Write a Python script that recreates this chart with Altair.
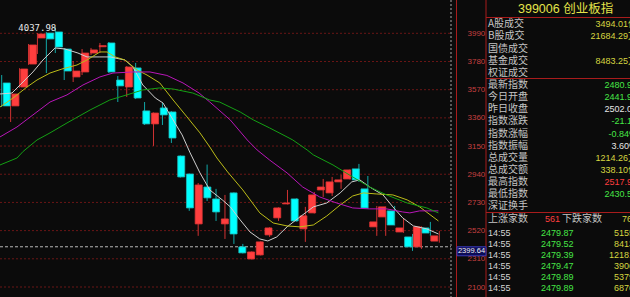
import altair as alt
import pandas as pd

# ---------------- candle data (399006 daily) ----------------
opens  = [3620, 3449, 3590, 3761, 3955, 3992, 4000, 3873, 3665, 3702,
          3843, 3890, 3918, 3642, 3590, 3732, 3412, 3315, 3434, 3404,
          3076, 2942, 2570, 2845, 2756, 2570, 2801, 2399, 2309, 2339,
          2488, 2615, 2719, 2756, 2533, 2652, 2823, 2801, 2883, 2905,
          2980, 2831, 2548, 2622, 2667, 2510, 2473, 2399, 2540, 2441.9]
highs  = [3679, 3545, 3730, 3910, 3992, 4000, 4037.98, 3878, 3784, 3873,
          3881, 3918, 3925, 3672, 3745, 3769, 3478, 3400, 3471, 3410,
          3080, 2945, 2875, 3012, 2831, 2786, 2805, 2421, 2365, 2440,
          2545, 2693, 2823, 2760, 2697, 2808, 2905, 2920, 2935, 2976,
          3017, 2927, 2704, 2700, 2704, 2607, 2495, 2552, 2585, 2517.9]
lows   = [3441, 3329, 3585, 3755, 3836, 3694, 3843, 3642, 3627, 3679,
          3828, 3843, 3695, 3478, 3516, 3500, 3307, 3151, 3307, 3173,
          2915, 2667, 2481, 2741, 2592, 2458, 2421, 2350, 2305, 2335,
          2473, 2592, 2715, 2588, 2436, 2648, 2771, 2778, 2831, 2900,
          2883, 2685, 2481, 2481, 2558, 2503, 2369, 2384, 2481, 2430.5]
closes = [3449, 3538, 3724, 3903, 3985, 3948, 3888, 3709, 3709, 3843,
          3866, 3898, 3702, 3598, 3739, 3508, 3315, 3396, 3382, 3210,
          2920, 2689, 2860, 2764, 2659, 2607, 2495, 2354, 2361, 2436,
          2540, 2689, 2726, 2592, 2630, 2786, 2845, 2883, 2898, 2972,
          2898, 2689, 2585, 2697, 2562, 2540, 2399, 2548, 2502, 2480.9]

# moving averages: (bar position, value)
ma5_pos = [-0.19, 1.15, 2.05, 3.5, 4.62, 5.97, 7.09, 8.54, 9.55, 11.0, 12.13, 13.8, 14.7,
           15.8, 17.2, 18.06, 19.2, 20.2, 21.1, 22.2, 23.3, 24.7, 25.6, 26.7, 27.8, 28.9,
           29.8, 30.8, 31.95, 33.4, 34.9, 36.4, 37.9, 39.2, 40.1, 41.2, 42.7, 43.8, 44.9,
           46.1, 47.6, 48.9]
ma5_val = [3538, 3545, 3605, 3702, 3791, 3881, 3873, 3843, 3814, 3814, 3814, 3791, 3739,
           3605, 3508, 3471, 3344, 3233, 3099, 2950, 2823, 2749, 2697, 2600, 2510, 2458,
           2443, 2473, 2548, 2622, 2697, 2726, 2801, 2883, 2898, 2845, 2786, 2697, 2615,
           2555, 2533, 2495]
ma10_pos = [-0.19, 1.27, 2.83, 3.95, 5.41, 6.75, 8.43, 9.55, 11.0, 11.8, 12.7, 13.8, 15.15,
            16.27, 17.7, 19.2, 20.75, 22.2, 23.3, 24.1, 25.3, 27.0, 28.9, 30.4, 31.95, 33.4,
            34.9, 36.4, 37.9, 39.3, 40.5, 42.0, 43.8, 45.4, 46.8, 48.3, 48.9]
ma10_val = [3441, 3508, 3590, 3642, 3694, 3724, 3754, 3791, 3851, 3851, 3814, 3791, 3717,
            3679, 3620, 3493, 3367, 3248, 3143, 3061, 2957, 2823, 2652, 2577, 2555, 2548,
            2562, 2629, 2711, 2778, 2801, 2793, 2786, 2749, 2697, 2622, 2592]
ma20_pos = [-0.19, 1.71, 3.5, 5.41, 7.31, 9.1, 11.0, 12.46, 14.7, 16.6, 18.5, 20.3, 22.1,
            23.3, 25.6, 27.5, 28.6, 30.0, 31.95, 33.7, 35.6, 37.5, 39.3, 41.2, 43.1, 44.9,
            45.7, 46.8, 48.9]
ma20_val = [3218, 3292, 3382, 3478, 3531, 3605, 3665, 3694, 3702, 3702, 3676, 3620, 3545,
            3478, 3344, 3195, 3121, 3046, 2950, 2845, 2771, 2726, 2689, 2682, 2682, 2659,
            2652, 2667, 2667]
ma60_pos = [-0.19, 1.71, 2.4, 3.95, 5.41, 7.31, 9.9, 12.1, 14.0, 15.8, 17.7, 19.2, 21.4,
            23.3, 24.4, 26.7, 28.2, 30.0, 31.95, 32.6, 34.2, 34.9, 37.1, 39.3, 41.2, 43.1,
            45.4, 47.6, 48.9]
ma60_val = [3009, 3061, 3110, 3195, 3248, 3322, 3419, 3493, 3531, 3568, 3583, 3575, 3545,
            3493, 3478, 3404, 3344, 3285, 3218, 3195, 3121, 3084, 3009, 2920, 2845, 2786,
            2726, 2689, 2652]

grid_levels = [3990, 3780, 3570, 3360, 3150, 2940, 2730, 2520, 2310, 2100]
cursor_price = 2399.64

title_text = "399006  创业板指"
info_labels = ["A股成交", "B股成交", "国债成交", "基金成交", "权证成交",
               "最新指数", "今日开盘", "昨日收盘", "指数涨跌", "指数涨幅", "指数振幅",
               "总成交量", "总成交额", "最高指数", "最低指数", "深证换手"]
info_values = ["3494.01亿", "21684.29万", "", "8483.25万", "",
               "2480.91", "2441.92", "2502.05", "-21.14", "-0.84%", "3.60%",
               "1214.26万", "338.10亿", "2517.93", "2430.57", ""]
info_kind = ["amt", "amt", "", "amt", "", "down", "down", "flat", "down", "down", "flat",
             "amt", "amt", "up", "down", ""]
adv_label, adv_count, dec_label, dec_count = "上涨家数", "561", "下跌家数", "768"
tick_times = ["14:55"] * 6
tick_prices = ["2479.87", "2479.52", "2479.39", "2479.47", "2479.89", "2479.89"]
tick_vols = ["5155", "8413", "12181", "3906", "5379", "6876"]

# ---------------- style ----------------
BG = "#0b0b0b"
RED, CYAN = "#ff3e3e", "#00ffff"
RED_WICK, CYAN_WICK = "#d03232", "#12a8a8"
GRID = "#6a1616"
FRAME = "#a81c1c"
GRAY = "#c4c4c4"
YEL, GRN, WHT = "#d6d640", "#46e646", "#e6e6e6"
NUMF = "Liberation Sans, Noto Sans CJK SC"
CJK = "Noto Sans CJK SC"
kind_color = {"amt": YEL, "down": GRN, "up": RED, "flat": WHT, "": WHT}

W, H = 630, 297
XS = alt.Scale(domain=[0, 49], range=[1.7, 439.3], zero=False, nice=False)
YS = alt.Scale(domain=[2100, 3990], range=[287, 33.3], zero=False, nice=False)

n = len(opens)
cdf = pd.DataFrame({"i": list(range(n)), "o": opens, "h": highs, "l": lows, "c": closes})
up = cdf["c"] >= cdf["o"]
cdf["body"] = [RED if u else CYAN for u in up]
cdf["edge"] = ["#e23636" if u else "#1cbcbc" for u in up]
cdf["wick"] = [RED_WICK if u else CYAN_WICK for u in up]

X = lambda f: alt.X(f, scale=XS, axis=None)
Y = lambda f: alt.Y(f, scale=YS, axis=None)

layers = []

# grid + price axis labels
gdf = pd.DataFrame({"p": grid_levels})
layers.append(
    alt.Chart(gdf).mark_rule(color=GRID, strokeDash=[2, 2], strokeWidth=1).encode(
        y=alt.Y("p:Q", scale=YS,
                axis=alt.Axis(orient="right", offset=-174, values=grid_levels, title=None,
                              format="d", grid=False, domain=False, ticks=False, labelPadding=11,
                              labelFont="Liberation Sans", labelFontSize=8,
                              labelColor="#c84040", labelOverlap=False)),
        x=alt.value(0), x2=alt.value(451))
)

# cursor dashed line
layers.append(
    alt.Chart(pd.DataFrame({"p": [cursor_price]})).mark_rule(
        color="#b8b8b8", strokeDash=[3, 2], strokeWidth=1).encode(
        y=Y("p:Q"), x=alt.value(0), x2=alt.value(451))
)

# wicks
layers.append(
    alt.Chart(cdf).mark_rule(strokeWidth=1).encode(
        x=X("i:Q"), y=Y("l:Q"), y2="h:Q", color=alt.Color("wick:N", scale=None))
)
# bodies
layers.append(
    alt.Chart(cdf).mark_bar(size=7, strokeWidth=0.8).encode(
        x=X("i:Q"), y=Y("o:Q"), y2="c:Q",
        color=alt.Color("body:N", scale=None), stroke=alt.Stroke("edge:N", scale=None))
)

# moving averages
ma_rows = []
for name, ps, vs in [("MA5", ma5_pos, ma5_val), ("MA10", ma10_pos, ma10_val),
                     ("MA20", ma20_pos, ma20_val), ("MA60", ma60_pos, ma60_val)]:
    for p, v in zip(ps, vs):
        ma_rows.append({"ma": name, "i": p, "v": v})
mdf = pd.DataFrame(ma_rows)
layers.append(
    alt.Chart(mdf).mark_line(strokeWidth=1).encode(
        x=X("i:Q"), y=Y("v:Q"),
        color=alt.Color("ma:N", scale=alt.Scale(domain=["MA5", "MA10", "MA20", "MA60"],
                                                range=["#cfcfcf", "#bcbc18", "#b816b8", "#14a014"]),
                        legend=None))
)

# highest price label
imax = highs.index(max(highs))
layers.append(
    alt.Chart(pd.DataFrame({"i": [imax], "h": [highs[imax]], "t": [f"{highs[imax]:.2f}"]}))
    .mark_text(align="right", baseline="middle", dx=1, dy=1, font="DejaVu Sans Mono",
               fontSize=9, color="#e8e8e8")
    .encode(x=X("i:Q"), y=Y("h:Q"), text="t:N")
)

# frame lines
layers.append(alt.Chart(pd.DataFrame({"a": [0]})).mark_rule(color="#a8a8a8", strokeDash=[2, 2])
              .encode(x=alt.value(451), y=alt.value(0), y2=alt.value(H)))
for xv in (456.5, 486):
    layers.append(alt.Chart(pd.DataFrame({"a": [0]})).mark_rule(color=FRAME, strokeWidth=1)
                  .encode(x=alt.value(xv), y=alt.value(0), y2=alt.value(H)))
for yv in (17.5, 78.5, 212.5):
    layers.append(alt.Chart(pd.DataFrame({"a": [0]})).mark_rule(color=FRAME, strokeWidth=1)
                  .encode(x=alt.value(486), x2=alt.value(W), y=alt.value(yv)))

# cursor price box
bdf = pd.DataFrame({"p": [cursor_price], "p2": [cursor_price - 67], "pm": [cursor_price - 33.5],
                    "t": [f"{cursor_price:.2f}"]})
layers.append(alt.Chart(bdf).mark_rect(fill="#0c0c58", stroke="#3a3ab4", strokeWidth=1)
              .encode(x=alt.value(457), x2=alt.value(486), y=Y("p:Q"), y2="p2:Q"))
layers.append(alt.Chart(bdf).mark_text(align="center", baseline="middle", font="Liberation Sans",
                                       fontSize=7.5, color="#f0f0f0")
              .encode(x=alt.value(471.5), y=Y("pm:Q"), text="t:N"))

# ---------------- right info panel ----------------
layers.append(alt.Chart(pd.DataFrame({"t": [title_text]})).mark_text(
    align="left", baseline="middle", font=NUMF, fontSize=12.5, color="#e4e44a")
    .encode(x=alt.value(518), y=alt.value(8.5), text="t:N"))

ROWS = alt.Scale(domain=[0, 16], range=[24.2, 218.6], zero=False, nice=False)
idf = pd.DataFrame({"row": list(range(len(info_labels))), "label": info_labels,
                    "value": info_values, "col": [kind_color[k] for k in info_kind]})
layers.append(alt.Chart(idf).mark_text(align="left", baseline="middle", font=CJK, fontSize=10,
                                       color=GRAY)
              .encode(x=alt.value(488), y=alt.Y("row:Q", scale=ROWS, axis=None), text="label:N"))
layers.append(alt.Chart(idf).mark_text(align="right", baseline="middle", font=NUMF, fontSize=9)
              .encode(x=alt.value(637), y=alt.Y("row:Q", scale=ROWS, axis=None), text="value:N",
                      color=alt.Color("col:N", scale=None)))

adv_df = pd.DataFrame({"row": [16] * 4, "t": [adv_label, adv_count, dec_label, dec_count],
                       "col": [GRAY, RED, GRAY, YEL]})
for k, xv in enumerate([488, 545, 562, 622]):
    layers.append(alt.Chart(adv_df.iloc[[k]]).mark_text(align="left", baseline="middle",
                                                        font=NUMF, fontSize=10 if k % 2 == 0 else 9)
                  .encode(x=alt.value(xv), y=alt.Y("row:Q", scale=ROWS, axis=None), text="t:N",
                          color=alt.Color("col:N", scale=None)))

TROWS = alt.Scale(domain=[0, 5], range=[232.7, 288.2], zero=False, nice=False)
tdf = pd.DataFrame({"row": list(range(len(tick_times))), "tm": tick_times, "pr": tick_prices,
                    "vol": tick_vols})
layers.append(alt.Chart(tdf).mark_text(align="left", baseline="middle", font=NUMF, fontSize=9,
                                       color="#d4d4d4")
              .encode(x=alt.value(488), y=alt.Y("row:Q", scale=TROWS, axis=None), text="tm:N"))
layers.append(alt.Chart(tdf).mark_text(align="left", baseline="middle", font=NUMF, fontSize=9,
                                       color=GRN)
              .encode(x=alt.value(541), y=alt.Y("row:Q", scale=TROWS, axis=None), text="pr:N"))
layers.append(alt.Chart(tdf).mark_text(align="right", baseline="middle", font=NUMF, fontSize=9,
                                       color=YEL)
              .encode(x=alt.value(634), y=alt.Y("row:Q", scale=TROWS, axis=None), text="vol:N"))

chart = (alt.layer(*layers)
         .resolve_scale(x="independent", y="independent", color="independent")
         .properties(width=W, height=H, background=BG, padding=0, autosize="none")
         .configure_view(stroke=None))

chart.save("out.html", embed_options={"renderer": "svg", "actions": False})
